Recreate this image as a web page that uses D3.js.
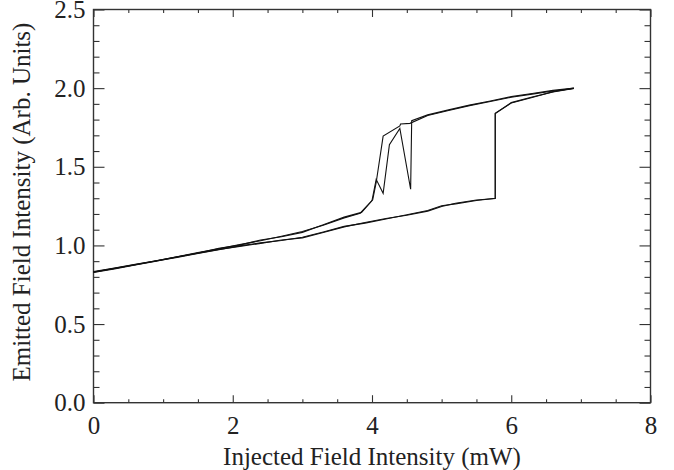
<!DOCTYPE html>
<html>
<head>
<meta charset="utf-8">
<script src="https://cdn.jsdelivr.net/npm/d3@7"></script>
<style>
  body { margin: 0; background: #fff; }
  svg text { font-family: "Liberation Serif", "Times New Roman", serif; fill: #222; }
</style>
</head>
<body>
<div id="chart"></div>
<script>
// Axis labels and ticks.
const xTitle = "Injected Field Intensity (mW)";
const yTitle = "Emitted Field Intensity (Arb. Units)";
const xTicks = [0, 2, 4, 6, 8];
const yTicks = [0.0, 0.5, 1.0, 1.5, 2.0, 2.5];

// Hysteresis sweeps (x in mW, y in arb. units).
// First sweep up: lower branch, jump at ~5.77 mW.
const up1X = [0, 0.3, 0.6, 0.9, 1.2, 1.5, 1.8, 2.1, 2.4, 2.7, 3.0, 3.3, 3.6, 3.9, 4.2, 4.5, 4.8, 5.0, 5.2, 5.5, 5.77, 5.77, 6.0, 6.3, 6.6, 6.9];
const up1Y = [0.830, 0.853, 0.877, 0.901, 0.924, 0.949, 0.972, 0.997, 1.016, 1.031, 1.052, 1.085, 1.121, 1.142, 1.168, 1.195, 1.222, 1.252, 1.264, 1.286, 1.300, 1.840, 1.905, 1.940, 1.978, 2.000];
// First sweep down: upper branch, drop near 4.57 mW with spikes.
const down1X = [6.9, 6.6, 6.3, 6.0, 5.7, 5.4, 5.1, 4.8, 4.57, 4.555, 4.40, 4.25, 4.16, 4.06, 4.0, 3.83, 3.6, 3.3, 3.0, 2.7, 2.4, 2.1, 1.8, 1.5, 1.2, 0.9, 0.6, 0.3, 0];
const down1Y = [2.000, 1.986, 1.966, 1.946, 1.918, 1.892, 1.862, 1.830, 1.793, 1.357, 1.744, 1.640, 1.331, 1.420, 1.285, 1.205, 1.175, 1.128, 1.088, 1.058, 1.030, 1.005, 0.978, 0.955, 0.928, 0.903, 0.878, 0.854, 0.831];
// Second sweep up.
const up2X = [0, 0.3, 0.6, 0.9, 1.2, 1.5, 1.8, 2.1, 2.4, 2.7, 3.0, 3.3, 3.6, 3.9, 4.2, 4.5, 4.8, 5.0, 5.2, 5.5, 5.77, 5.77, 6.0, 6.3, 6.6, 6.9];
const up2Y = [0.834, 0.856, 0.880, 0.903, 0.927, 0.951, 0.975, 0.994, 1.013, 1.034, 1.048, 1.082, 1.118, 1.146, 1.171, 1.192, 1.218, 1.248, 1.268, 1.289, 1.298, 1.838, 1.908, 1.944, 1.975, 1.998];
// Second sweep down: drop near 4.1 mW.
const down2X = [6.9, 6.6, 6.3, 6.0, 5.7, 5.4, 5.1, 4.8, 4.545, 4.41, 4.40, 4.16, 4.06, 4.01, 3.85, 3.6, 3.3, 3.0, 2.7, 2.4, 2.1, 1.8, 1.5, 1.2, 0.9, 0.6, 0.3, 0];
const down2Y = [1.998, 1.982, 1.962, 1.942, 1.915, 1.889, 1.858, 1.826, 1.776, 1.772, 1.760, 1.695, 1.400, 1.290, 1.210, 1.180, 1.132, 1.083, 1.055, 1.034, 1.002, 0.981, 0.952, 0.926, 0.900, 0.876, 0.851, 0.828];

const sweeps = [[up1X, up1Y], [down1X, down1Y], [up2X, up2Y], [down2X, down2Y]];

// Layout.
const width = 674;
const height = 470;
const margin = { left: 93.5, right: 23.5, top: 9.5, bottom: 67.3 };
const plotW = width - margin.left - margin.right;
const plotH = height - margin.top - margin.bottom;
const fontSize = 25;

const svg = d3.select("#chart").append("svg")
  .attr("width", width)
  .attr("height", height);

const g = svg.append("g")
  .attr("transform", "translate(" + margin.left + "," + margin.top + ")");

const x = d3.scaleLinear().domain([0, 8]).range([0, plotW]);
const y = d3.scaleLinear().domain([0, 2.5]).range([plotH, 0]);

const xMinor = d3.range(0, 8.01, 0.5).filter(v => xTicks.indexOf(v) < 0);
const yMinor = d3.range(0, 25.01, 1).map(v => v / 10).filter(v => Math.round(v * 10) % 5 !== 0);

// Draw all four sides with inward ticks.
function styleAxis(sel) {
  sel.select(".domain").remove();
  sel.selectAll(".tick line").attr("stroke", "#333").attr("stroke-width", 1.1);
  sel.selectAll("text").attr("font-size", fontSize).attr("fill", "#222")
    .attr("font-family", "'Liberation Serif', 'Times New Roman', serif");
}

g.append("g").attr("transform", "translate(0," + plotH + ")")
  .call(d3.axisBottom(x).tickValues(xTicks).tickSize(-7.5).tickPadding(14).tickFormat(d3.format("d")))
  .call(styleAxis);
g.append("g").attr("transform", "translate(0," + plotH + ")")
  .call(d3.axisBottom(x).tickValues(xMinor).tickSize(-3.5).tickFormat(""))
  .call(styleAxis);
g.append("g")
  .call(d3.axisTop(x).tickValues(xTicks).tickSize(-7.5).tickFormat(""))
  .call(styleAxis);
g.append("g")
  .call(d3.axisTop(x).tickValues(xMinor).tickSize(-3.5).tickFormat(""))
  .call(styleAxis);

g.append("g")
  .call(d3.axisLeft(y).tickValues(yTicks).tickSize(-11).tickPadding(8).tickFormat(d3.format(".1f")))
  .call(styleAxis);
g.append("g")
  .call(d3.axisLeft(y).tickValues(yMinor).tickSize(-6).tickFormat(""))
  .call(styleAxis);
g.append("g").attr("transform", "translate(" + plotW + ",0)")
  .call(d3.axisRight(y).tickValues(yTicks).tickSize(-11).tickFormat(""))
  .call(styleAxis);
g.append("g").attr("transform", "translate(" + plotW + ",0)")
  .call(d3.axisRight(y).tickValues(yMinor).tickSize(-6).tickFormat(""))
  .call(styleAxis);

// Frame.
g.append("rect")
  .attr("width", plotW)
  .attr("height", plotH)
  .attr("fill", "none")
  .attr("stroke", "#333")
  .attr("stroke-width", 1.4);

// Curves.
const line = d3.line()
  .x(d => x(d[0]))
  .y(d => y(d[1]));

for (const s of sweeps) {
  const pts = s[0].map((v, i) => [v, s[1][i]]);
  g.append("path")
    .datum(pts)
    .attr("d", line)
    .attr("fill", "none")
    .attr("stroke", "#111")
    .attr("stroke-width", 1.1)
    .attr("stroke-linejoin", "miter");
}

// Titles.
svg.append("text")
  .attr("x", margin.left + plotW / 2)
  .attr("y", 464.5)
  .attr("text-anchor", "middle")
  .attr("font-size", fontSize)
  .text(xTitle);

svg.append("text")
  .attr("transform", "translate(30," + (margin.top + plotH / 2 - 4) + ") rotate(-90)")
  .attr("text-anchor", "middle")
  .attr("font-size", fontSize)
  .text(yTitle);
</script>
</body>
</html>
